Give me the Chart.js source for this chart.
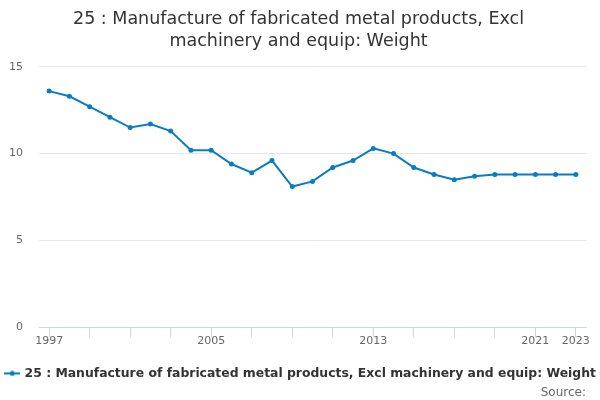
<!DOCTYPE html>
<html>
<head>
<meta charset="utf-8">
<script src="https://cdn.jsdelivr.net/npm/chart.js@4"></script>
<style>
  html, body { margin: 0; padding: 0; background: #fff; }
  #wrap { width: 600px; height: 400px; position: relative; }
</style>
</head>
<body>
<div id="wrap"><canvas id="weightChart"></canvas></div>
<script>
// years on the x axis
const years = ["1997", "1998", "1999", "2000", "2001", "2002", "2003", "2004", "2005", "2006",
    "2007", "2008", "2009", "2010", "2011", "2012", "2013", "2014", "2015", "2016",
    "2017", "2018", "2019", "2020", "2021", "2022", "2023"];

// values
const weightValues = [13.6, 13.3, 12.7, 12.1, 11.5, 11.7, 11.3, 10.2, 10.2, 9.4,
    8.9, 9.6, 8.1, 8.4, 9.2, 9.6, 10.3, 10.0, 9.2, 8.8,
    8.5, 8.7, 8.8, 8.8, 8.8, 8.8, 8.8];

// only these years get a label under the axis
const shownYears = ["1997", "2005", "2013", "2021", "2023"];

const seriesName = "25 : Manufacture of fabricated metal products, Excl machinery and equip: Weight";
const lineColor = "#0a7dc2";

// little legend symbol: a line with a dot in the middle
function legendSymbol() {
    const c = document.createElement("canvas");
    c.width = 16;
    c.height = 6;
    const g = c.getContext("2d");
    g.strokeStyle = lineColor;
    g.lineWidth = 2;
    g.beginPath();
    g.moveTo(0, 3);
    g.lineTo(16, 3);
    g.stroke();
    g.fillStyle = lineColor;
    g.beginPath();
    g.arc(8, 3, 2.5, 0, Math.PI * 2);
    g.fill();
    return c;
}

// centre the title on the whole canvas and let the legend use the full width
const widenBlocks = {
    id: "widenBlocks",
    afterLayout(chart) {
        const t = chart.titleBlock;
        if (t) {
            t.left = 0;
            t.right = chart.width - 3;
            t.width = t.right - t.left;
        }
        const l = chart.legend;
        if (l) {
            l.right = chart.width;
            l.width = l.right - l.left;
        }
    }
};

function createChart() {
    const ctx = document.getElementById("weightChart").getContext("2d");
    const symbol = legendSymbol();

    new Chart(ctx, {
        type: "line",
        data: {
            labels: years,
            datasets: [{
                label: seriesName,
                data: weightValues,
                borderColor: lineColor,
                backgroundColor: lineColor,
                borderWidth: 2,
                pointRadius: 2.5,
                pointBorderWidth: 0,
                tension: 0,
                fill: false
            }]
        },
        options: {
            responsive: true,
            maintainAspectRatio: false,
            animation: false,
            layout: { padding: { left: 0, right: 14, top: 6, bottom: 0 } },
            plugins: {
                title: {
                    display: true,
                    text: ["25 : Manufacture of fabricated metal products, Excl", "machinery and equip: Weight"],
                    color: "#333333",
                    font: { family: "DejaVu Sans", size: 17.5, weight: "normal", lineHeight: 1.28 },
                    padding: { top: 2, bottom: 14 }
                },
                subtitle: {
                    display: true,
                    text: "Source:",
                    position: "bottom",
                    align: "end",
                    color: "#666666",
                    font: { family: "DejaVu Sans", size: 12 },
                    padding: { top: -4, bottom: 0 }
                },
                legend: {
                    position: "bottom",
                    align: "start",
                    labels: {
                        color: "#333333",
                        font: { family: "DejaVu Sans", size: 12.4, weight: "bold" },
                        usePointStyle: true,
                        padding: 6,
                        generateLabels: chart => chart.data.datasets.map((ds, i) => ({
                            text: ds.label,
                            fontColor: "#333333",
                            pointStyle: symbol,
                            datasetIndex: i,
                            lineWidth: 0
                        }))
                    }
                },
                tooltip: { enabled: false }
            },
            scales: {
                x: {
                    type: "category",
                    offset: true,
                    border: { color: "#ccd6eb", width: 1 },
                    grid: {
                        drawOnChartArea: false,
                        drawTicks: true,
                        tickLength: 10,
                        offset: false,
                        color: c => (c.index % 2 === 0 ? "#ccd6eb" : "rgba(0,0,0,0)")
                    },
                    ticks: {
                        autoSkip: false,
                        maxRotation: 0,
                        color: "#666666",
                        font: { family: "DejaVu Sans", size: 11 },
                        padding: -3,
                        callback: function (value) {
                            const y = this.getLabelForValue(value);
                            return shownYears.includes(y) ? y : "";
                        }
                    },
                    // empty title only keeps a gap between the labels and the legend
                    title: {
                        display: true,
                        text: "",
                        font: { size: 14 },
                        padding: { top: 0, bottom: 0 }
                    }
                },
                y: {
                    min: 0,
                    max: 15,
                    border: { display: false },
                    grid: { color: "#e6e6e6", drawTicks: false },
                    ticks: {
                        stepSize: 5,
                        color: "#666666",
                        font: { family: "DejaVu Sans", size: 11 },
                        padding: 16
                    },
                    afterFit: scale => { scale.width = 39; }
                }
            }
        },
        plugins: [widenBlocks]
    });
}

createChart();
</script>
</body>
</html>
